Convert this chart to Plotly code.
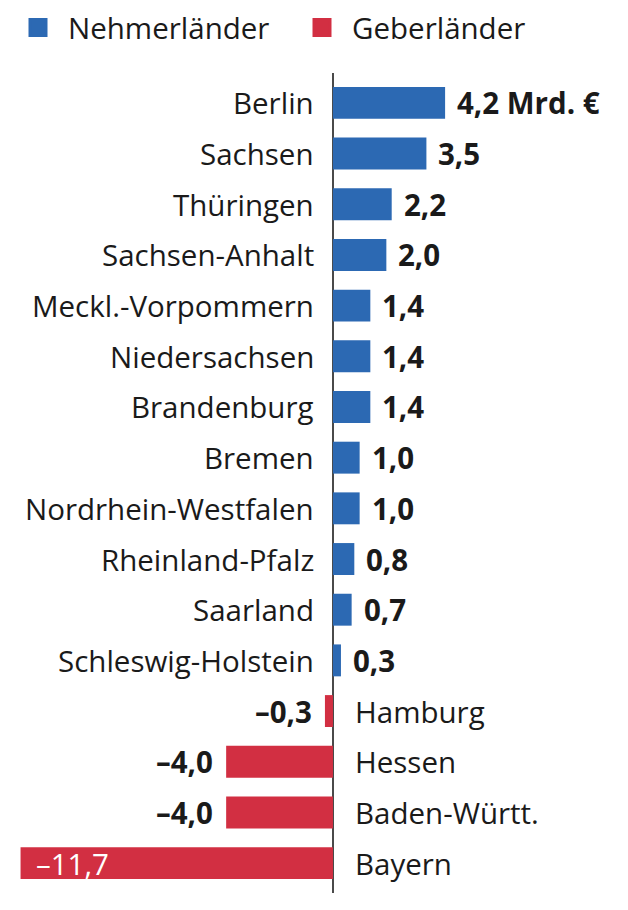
import plotly.graph_objects as go

# Länderfinanzausgleich: Nehmer (+) und Geber (-), Mrd. Euro
laender = [
    "Berlin", "Sachsen", "Thüringen", "Sachsen-Anhalt", "Meckl.-Vorpommern",
    "Niedersachsen", "Brandenburg", "Bremen", "Nordrhein-Westfalen",
    "Rheinland-Pfalz", "Saarland", "Schleswig-Holstein", "Hamburg",
    "Hessen", "Baden-Württ.", "Bayern",
]
werte = [4.2, 3.5, 2.2, 2.0, 1.4, 1.4, 1.4, 1.0, 1.0, 0.8, 0.7, 0.3,
         -0.3, -4.0, -4.0, -11.7]

BLAU = "#2c69b3"
ROT = "#d22f42"
TEXT = "#1a1a1a"
FONT = "Open Sans"
SIZE = 29.5


def fmt(v):
    s = f"{abs(v):.1f}".replace(".", ",")
    return ("–" + s) if v < 0 else s


fig = go.Figure()

fig.add_trace(go.Bar(
    x=werte,
    y=laender,
    orientation="h",
    marker=dict(color=[BLAU if v >= 0 else ROT for v in werte], line=dict(width=0)),
    showlegend=False,
    hoverinfo="x+y",
))

# legend entries (square markers)
for name, col in [("Nehmerländer", BLAU), ("Geberländer", ROT)]:
    fig.add_trace(go.Scatter(
        x=[None], y=[None], mode="markers", name=name,
        marker=dict(symbol="square", size=16, color=col,
                    line=dict(width=3, color=col)),
    ))

annotations = []
min_v = min(werte)
for i, (land, v) in enumerate(zip(laender, werte)):
    # category label next to the zero line
    if v >= 0:
        annotations.append(dict(x=0, y=land, text=land, xanchor="right",
                                xshift=-17, showarrow=False,
                                font=dict(family=FONT, size=SIZE, color=TEXT)))
    else:
        annotations.append(dict(x=0, y=land, text=land, xanchor="left",
                                xshift=20, showarrow=False,
                                font=dict(family=FONT, size=SIZE, color=TEXT)))
    # value label
    label = fmt(v) + (" Mrd. €" if i == 0 else "")
    if v == min_v:
        annotations.append(dict(x=v, y=land, text=label, xanchor="left",
                                xshift=13, showarrow=False,
                                font=dict(family=FONT, size=SIZE, color="white")))
    elif v >= 0:
        annotations.append(dict(x=v, y=land, text="<b>" + label + "</b>",
                                xanchor="left", xshift=10, showarrow=False,
                                font=dict(family=FONT, size=SIZE, color=TEXT)))
    else:
        annotations.append(dict(x=v, y=land, text="<b>" + label + "</b>",
                                xanchor="right", xshift=-11, showarrow=False,
                                font=dict(family=FONT, size=SIZE, color=TEXT)))

# page body adds an 8px margin, so the figure is 8px smaller each way
fig.update_layout(
    width=620,
    height=902,
    margin=dict(l=0, r=0, t=65, b=17),
    paper_bgcolor="white",
    plot_bgcolor="white",
    bargap=0.37,
    font=dict(family=FONT, size=SIZE, color=TEXT),
    annotations=annotations,
    legend=dict(
        orientation="h",
        x=0, xanchor="left",
        y=0.978, yref="container", yanchor="middle",
        font=dict(family=FONT, size=SIZE, color=TEXT),
        itemsizing="trace",
        itemwidth=50,
        entrywidth=219,
        bgcolor="rgba(0,0,0,0)",
    ),
    xaxis=dict(
        range=[-12.17, 11.05],
        showgrid=False,
        showticklabels=False,
        zeroline=True,
        zerolinecolor="#4a4a4a",
        zerolinewidth=2,
        fixedrange=True,
    ),
    yaxis=dict(
        range=[15.59, -0.59],
        showgrid=False,
        showticklabels=False,
        zeroline=False,
        fixedrange=True,
    ),
)

fig.write_html("out.html")
